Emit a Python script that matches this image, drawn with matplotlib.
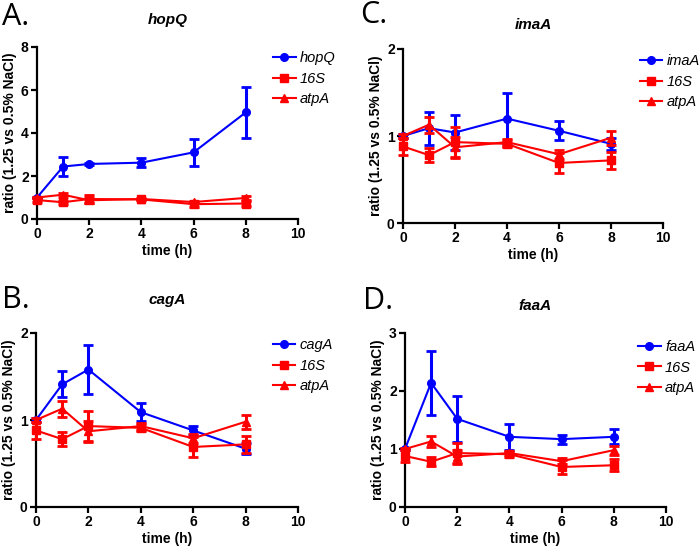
import matplotlib
matplotlib.use("Agg")
import matplotlib.pyplot as plt
from matplotlib.lines import Line2D

# ---- data ----
time = [0, 1, 2, 4, 6, 8]

hopQ_mean = [1.0, 2.44, 2.56, 2.62, 3.10, 4.96]
hopQ_err = [0.02, 0.46, 0.04, 0.22, 0.63, 1.19]

imaA_mean = [1.0, 1.09, 1.04, 1.20, 1.06, 0.91]
imaA_err = [0.02, 0.19, 0.20, 0.29, 0.11, 0.07]

cagA_mean = [1.0, 1.41, 1.58, 1.09, 0.88, 0.67]
cagA_err = [0.02, 0.15, 0.28, 0.10, 0.05, 0.06]

faaA_mean = [1.0, 2.14, 1.52, 1.21, 1.17, 1.21]
faaA_err = [0.02, 0.55, 0.40, 0.22, 0.08, 0.13]

s16_mean = [0.88, 0.78, 0.93, 0.91, 0.69, 0.72]
s16_err = [0.10, 0.08, 0.17, 0.04, 0.12, 0.10]

atpA_mean = [1.0, 1.13, 0.87, 0.93, 0.79, 0.98]
atpA_err = [0.02, 0.09, 0.12, 0.04, 0.05, 0.08]

xticks = [0, 2, 4, 6, 8, 10]

panels = [
    ("A.", "hopQ", hopQ_mean, hopQ_err, 8, [0, 2, 4, 6, 8], (37, 47, 298, 219), (0.904, 0.975), (2, 17), 20),
    ("C.", "imaA", imaA_mean, imaA_err, 2, [0, 1, 2], (403, 49, 663, 223), (0.91, 0.97), (360, 15), 25),
    ("B.", "cagA", cagA_mean, cagA_err, 2, [0, 1, 2], (36, 333, 298, 507), (0.904, 0.97), (2, 300), 300),
    ("D.", "faaA", faaA_mean, faaA_err, 3, [0, 1, 2, 3], (405, 333, 666, 507), (0.893, 0.96), (363, 301), 306),
]

W, H = 700, 550
fig = plt.figure(figsize=(W / 100, H / 100), dpi=100)

BLUE = "#0000FF"
RED = "#FF0000"
FONT = "Liberation Sans"
eb_kw = dict(markersize=5.5, linewidth=1.5, elinewidth=2.2, capsize=3.5,
             capthick=2, clip_on=False)

for letter, gene, mean, err, ymax, yticks, (l, t, r, b), leg_anchor, (lx, ly), ty in panels:
    ax = fig.add_axes([l / W, 1 - b / H, (r - l) / W, (b - t) / H])
    ax.errorbar(time, mean, yerr=err, color=BLUE, marker="o", zorder=3, **eb_kw)
    ax.errorbar(time, s16_mean, yerr=s16_err, color=RED, marker="s", zorder=4, **eb_kw)
    ax.errorbar(time, atpA_mean, yerr=atpA_err, color=RED, marker="^", zorder=4, **eb_kw)
    ax.set_xlim(0, 10)
    ax.set_ylim(0, ymax)
    ax.set_xticks(xticks)
    ax.set_yticks(yticks)
    for s in ["top", "right"]:
        ax.spines[s].set_visible(False)
    for s in ["left", "bottom"]:
        ax.spines[s].set_linewidth(1.6)
    ax.tick_params(direction="out", length=4, width=1.6, pad=2)
    for lab in ax.get_xticklabels() + ax.get_yticklabels():
        lab.set_fontfamily(FONT)
        lab.set_fontweight("bold")
        lab.set_fontsize(10)
    ax.set_xlabel("time (h)", fontfamily=FONT, fontweight="bold", fontsize=10, labelpad=2)
    ax.set_ylabel("ratio (1.25 vs 0.5% NaCl)", fontfamily=FONT, fontweight="bold",
                  fontsize=10, labelpad=3)
    handles = [
        Line2D([], [], color=BLUE, marker="o", markersize=5.5, linewidth=1.5),
        Line2D([], [], color=RED, marker="s", markersize=5.5, linewidth=1.5),
        Line2D([], [], color=RED, marker="^", markersize=5.5, linewidth=1.5),
    ]
    ax.legend(handles, [gene, "16S", "atpA"], loc="upper left", bbox_to_anchor=leg_anchor,
              frameon=False, borderaxespad=0, borderpad=0, handlelength=1.55,
              handletextpad=0.3, labelspacing=0.45,
              prop={"family": FONT, "style": "italic", "size": 10.5})
    fig.text(lx / W, 1 - ly / H, letter, fontfamily="Open Sans", fontsize=22,
             ha="left", va="center")
    fig.text((l + r) / 2 / W, 1 - ty / H, gene, fontfamily=FONT, fontweight="bold",
             fontstyle="italic", fontsize=11, ha="center", va="center")

fig.savefig("out.png", dpi=100)
